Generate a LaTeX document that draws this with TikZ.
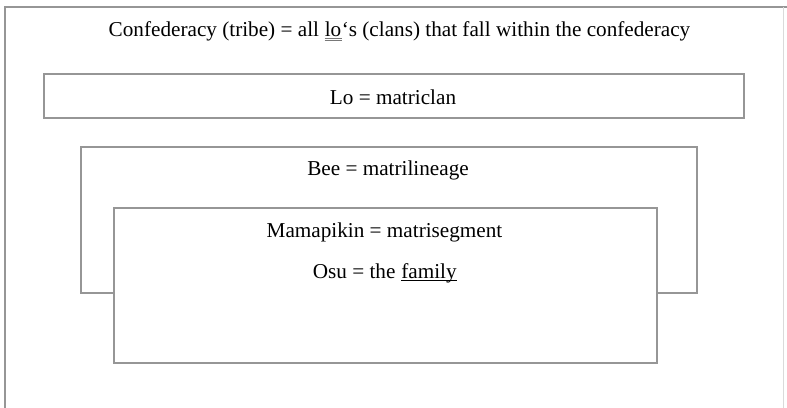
\documentclass[tikz,border=0pt]{standalone}
\usepackage{fontspec}
\setmainfont{Liberation Serif}
\definecolor{boxgray}{RGB}{150,150,150}
\definecolor{ulgray}{RGB}{120,120,120}
\newcommand{\dblul}[1]{\tikz[baseline=(w.base)]{\node[inner sep=0pt] (w) {#1};
  \draw[ulgray,line width=0.6pt] ([yshift=-2.2pt]w.base west) -- ([yshift=-2.2pt]w.base east);
  \draw[ulgray,line width=0.6pt] ([yshift=-4.2pt]w.base west) -- ([yshift=-4.2pt]w.base east);}}
\newcommand{\sglul}[1]{\tikz[baseline=(w.base)]{\node[inner sep=0pt] (w) {#1};
  \draw[black,line width=0.7pt] ([yshift=-2.6pt]w.base west) -- ([yshift=-2.6pt]w.base east);}}
\begin{document}
\begin{tikzpicture}[x=1pt,y=-1pt,
  frame/.style={draw=boxgray,line width=1.4pt},
  txt/.style={font=\fontsize{21.2}{25}\selectfont,inner sep=0pt,anchor=base}]
\useasboundingbox (0,0) rectangle (787,407);
\fill[white] (0,0) rectangle (787,407);
% outer frame
\draw[frame] (5,410) -- (5,7) -- (787,7);
\draw[draw=boxgray!35,line width=1pt] (783,7) -- (783,410);
% boxes
\node[frame,minimum width=700pt,minimum height=44pt,inner sep=0pt] (lo) at (394,96) {};
\node[frame,fill=white,minimum width=616pt,minimum height=146pt,inner sep=0pt] (bee) at (389,220) {};
\node[frame,fill=white,minimum width=543pt,minimum height=155pt,inner sep=0pt] (mama) at (385.5,285.5) {};
% texts
\node[txt] (conf) at (399.5,36) {Confederacy (tribe) = all \dblul{lo}‘s (clans) that fall within the confederacy};
\node[txt] (lot) at (393,104) {Lo = matriclan};
\node[txt] (beet) at (388,175) {Bee = matrilineage};
\node[txt] (mamat) at (384.5,237) {Mamapikin = matrisegment};
\node[txt] (osut) at (385,278) {Osu = the \sglul{family}};
\end{tikzpicture}
\end{document}
